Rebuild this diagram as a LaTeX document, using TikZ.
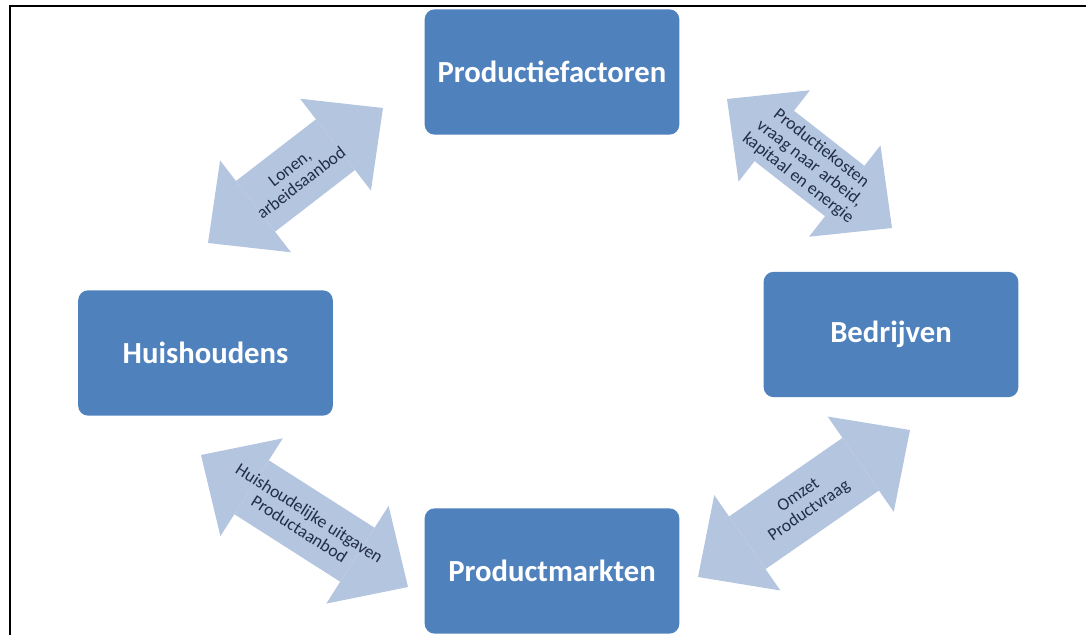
\documentclass[tikz,border=0pt]{standalone}
\usepackage{fontspec}
\setmainfont{Carlito}
\usetikzlibrary{arrows.meta}
\definecolor{boxblue}{RGB}{79,129,189}
\definecolor{flowblue}{RGB}{180,197,224}
\definecolor{flowtext}{RGB}{34,45,70}
\tikzset{sector/.style={rectangle, rounded corners=7.5pt, fill=boxblue, text=white, font=\fontsize{23}{27}\selectfont\bfseries, minimum width=191pt, minimum height=94pt}}
\tikzset{bigtip/.tip={Triangle[length=45pt, width=87pt, line width=0pt]}}
\tikzset{flow/.style={draw=flowblue, line width=48pt, bigtip-bigtip}}
\tikzset{flowlabel/.style={sloped, align=center, inner sep=1pt, text=flowtext, font=\fontsize{13.2}{14.2}\selectfont}}

\begin{document}
\begin{tikzpicture}[x=0.75pt, y=-0.75pt]
    \useasboundingbox (0,0) rectangle (1086,635);
    \draw[line width=1.2pt] (10,635) -- (10,6) -- (1086,6);
    \node[sector] (pf) at (552,72) {Productiefactoren};
    \node[sector] (hh) at (205.5,353) {Huishoudens};
    \node[sector] (bd) at (891,334.5) {Bedrijven};
    \node[sector] (pm) at (552,571) {Productmarkten};
    % ends of the block arrows
    \coordinate (lonenA) at (208,243);
    \coordinate (lonenB) at (383,108);
    \coordinate (kostenA) at (727,99);
    \coordinate (kostenB) at (892,228);
    \coordinate (uitgavenA) at (201,455);
    \coordinate (uitgavenB) at (408,587);
    \coordinate (omzetA) at (698,577);
    \coordinate (omzetB) at (910,430);
    \draw[flow] (lonenA) -- node[flowlabel] (lonen) {Lonen,\\arbeidsaanbod} (lonenB);
    \draw[flow] (kostenA) -- node[flowlabel] (kosten) {Productiekosten\\vraag naar arbeid,\\kapitaal en energie} (kostenB);
    \draw[flow] (uitgavenA) -- node[flowlabel] (uitgaven) {Huishoudelijke uitgaven\\Productaanbod} (uitgavenB);
    \draw[flow] (omzetA) -- node[flowlabel] (omzet) {Omzet\\Productvraag} (omzetB);
\end{tikzpicture}
\end{document}
